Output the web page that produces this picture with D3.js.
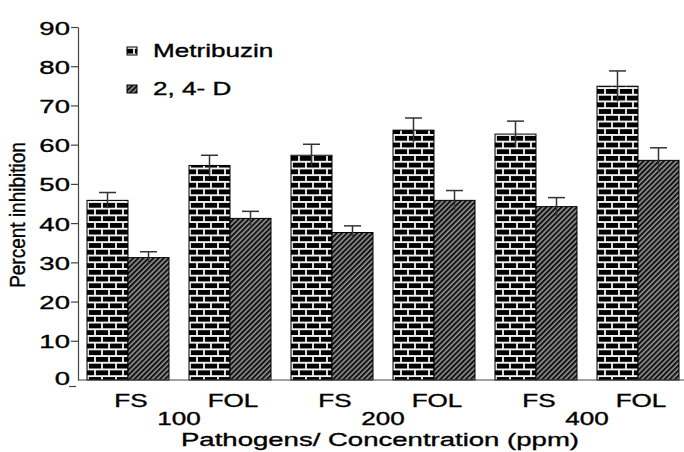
<!DOCTYPE html>
<html>
<head>
<meta charset="utf-8">
<script src="https://cdn.jsdelivr.net/npm/d3@7"></script>
<style>
  body { margin: 0; background: #fff; }
  text { font-family: "Liberation Sans", Arial, sans-serif; fill: #000; stroke: #000; stroke-width: 0.35px; }
</style>
</head>
<body>
<svg width="684" height="452"></svg>
<script>
// data
let groups = ["FS100", "FOL100", "FS200", "FOL200", "FS400", "FOL400"];
let pathogens = ["FS", "FOL", "FS", "FOL", "FS", "FOL"];
let concentrations = ["100", "200", "400"];
let series = ["Metribuzin", "2, 4- D"];
let metribuzin = [45.8, 54.7, 57.3, 63.7, 62.7, 74.9];
let metribuzinErr = [2.0, 2.6, 2.8, 3.1, 3.3, 3.9];
let twoFourD = [31.2, 41.2, 37.6, 45.8, 44.2, 56.0];
let twoFourDErr = [1.5, 1.8, 1.7, 2.5, 2.3, 3.2];
let yTicks = [0, 10, 20, 30, 40, 50, 60, 70, 80, 90];

let svg = d3.select("svg");
let stretch = 1.45;   // the original figure is squeezed wide

// patterns
let defs = svg.append("defs");
let brick = defs.append("pattern")
  .attr("id", "brick")
  .attr("patternUnits", "userSpaceOnUse")
  .attr("width", 14).attr("height", 13.4);
brick.append("rect").attr("width", 14).attr("height", 13.4).attr("fill", "#000");
brick.append("path")
  .attr("d", "M0,0.9H14 M0,7.6H14 M1,0V6.7 M8,6.7V13.4")
  .attr("stroke", "#f2f2f2").attr("stroke-width", 1.8);

let hatch = defs.append("pattern")
  .attr("id", "hatch")
  .attr("patternUnits", "userSpaceOnUse")
  .attr("width", 3.6).attr("height", 3.6)
  .attr("patternTransform", "rotate(45)");
hatch.append("rect").attr("width", 3.6).attr("height", 3.6).attr("fill", "#141414");
hatch.append("line")
  .attr("x1", 1).attr("y1", 0).attr("x2", 1).attr("y2", 3.6)
  .attr("stroke", "#f0f0f0").attr("stroke-width", 0.9);

let fills = {"Metribuzin": "url(#brick)", "2, 4- D": "url(#hatch)"};

// scales
let xScale = d3.scaleBand()
  .domain(groups)
  .range([87, 679])
  .paddingInner(0.196)
  .paddingOuter(0);
let xInner = d3.scaleBand()
  .domain(series)
  .range([0, xScale.bandwidth()]);
let yScale = d3.scaleLinear()
  .domain([0, 90])
  .range([380, 27]);

function stretchedText(g, x, y, str, anchor, size) {
  return g.append("text")
    .attr("transform", "translate(" + x + "," + y + ") scale(" + stretch + ",1)")
    .attr("text-anchor", anchor)
    .style("font-size", size + "px")
    .text(str);
}

// bars
let rows = groups.map((g, i) => ({
  group: g,
  values: [
    {s: "Metribuzin", v: metribuzin[i], e: metribuzinErr[i]},
    {s: "2, 4- D", v: twoFourD[i], e: twoFourDErr[i]}
  ]
}));

let gBars = svg.append("g");
let grp = gBars.selectAll("g.grp")
  .data(rows).enter()
  .append("g")
  .attr("class", "grp")
  .attr("transform", d => "translate(" + xScale(d.group) + ",0)");

grp.selectAll("rect")
  .data(d => d.values).enter()
  .append("rect")
  .attr("x", d => xInner(d.s))
  .attr("y", d => yScale(d.v))
  .attr("width", xInner.bandwidth())
  .attr("height", d => yScale(0) - yScale(d.v))
  .attr("fill", d => fills[d.s])
  .attr("stroke", "#000")
  .attr("stroke-width", 1);

// error bars
let capW = 17;
let eb = grp.selectAll("g.err")
  .data(d => d.values).enter()
  .append("g").attr("class", "err")
  .attr("stroke", "#333").attr("stroke-width", 1.5);
eb.append("line")
  .attr("x1", d => xInner(d.s) + xInner.bandwidth() / 2)
  .attr("x2", d => xInner(d.s) + xInner.bandwidth() / 2)
  .attr("y1", d => yScale(d.v - d.e))
  .attr("y2", d => yScale(d.v + d.e));
eb.append("line")
  .attr("x1", d => xInner(d.s) + xInner.bandwidth() / 2 - capW / 2)
  .attr("x2", d => xInner(d.s) + xInner.bandwidth() / 2 + capW / 2)
  .attr("y1", d => yScale(d.v + d.e))
  .attr("y2", d => yScale(d.v + d.e));

// axes
let yAxis = svg.append("g")
  .attr("transform", "translate(78,0)")
  .call(d3.axisLeft(yScale).tickValues(yTicks).tickSize(7).tickPadding(1).tickSizeOuter(0));
yAxis.select(".domain").attr("stroke", "#444").attr("stroke-width", 1.2);
yAxis.selectAll(".tick line").attr("stroke", "#444").attr("stroke-width", 1.2);
yAxis.selectAll(".tick text").remove();
yAxis.selectAll(".tick").each(function(d) {
  let t = d3.select(this);
  if (d === 0) {
    // the zero tick sits under its label in the original
    t.select("line").attr("transform", "translate(-2,6)");
    stretchedText(t, -8, 4, "0", "end", 19);
  } else {
    stretchedText(t, -8, 7, String(d), "end", 19);
  }
});

svg.append("line")
  .attr("x1", 78).attr("x2", 684)
  .attr("y1", yScale(0)).attr("y2", yScale(0))
  .attr("stroke", "#444").attr("stroke-width", 1.2);

// category labels
let gLab = svg.append("g");
groups.forEach((g, i) => {
  stretchedText(gLab, xScale(g) + xScale.bandwidth() / 2 + 3, 407, pathogens[i], "middle", 18);
});
concentrations.forEach((c, i) => {
  let a = xScale(groups[2 * i]) + xScale.bandwidth() / 2;
  let b = xScale(groups[2 * i + 1]) + xScale.bandwidth() / 2;
  stretchedText(gLab, (a + b) / 2, 425, c, "middle", 18);
});
stretchedText(gLab, 380, 446, "Pathogens/ Concentration (ppm)", "middle", 19);

// y title
svg.append("text")
  .attr("transform", "translate(25,215) scale(1.15,1) rotate(-90)")
  .attr("text-anchor", "middle")
  .style("font-size", "19px")
  .text("Percent inhibition");

// legend
let legend = svg.append("g");
series.forEach((s, i) => {
  let y = 47 + i * 38;
  legend.append("rect")
    .attr("x", 127).attr("y", y)
    .attr("width", 10).attr("height", 8)
    .attr("fill", fills[s])
    .attr("stroke", "#000").attr("stroke-width", 1);
  stretchedText(legend, 153, y + 10, s, "start", 18);
});
</script>
</body>
</html>
